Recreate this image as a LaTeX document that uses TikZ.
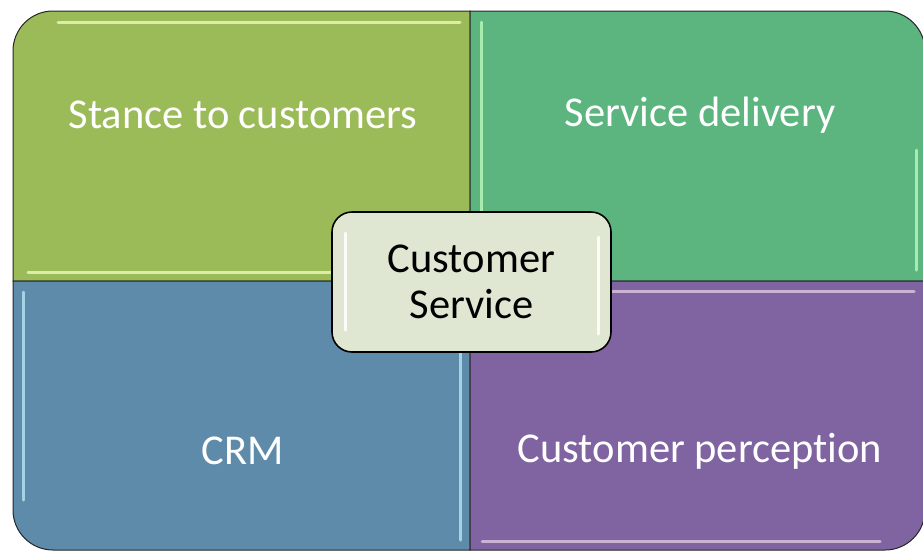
\documentclass[tikz,border=0pt]{standalone}
\usepackage{fontspec}
\setmainfont[RawFeature=-liga]{Carlito}
\definecolor{qgreen}{HTML}{9BBB59}
\definecolor{qteal}{HTML}{5CB47F}
\definecolor{qblue}{HTML}{5F8BAB}
\definecolor{qpurple}{HTML}{8064A2}
\definecolor{cfill}{HTML}{DFE7D3}
\tikzset{
  quad/.style={draw=black!85, line width=1pt},
  hl/.style={line width=3pt, line cap=round, opacity=0.75},
  qlabel/.style={text=white, font=\fontsize{42.5}{46}\selectfont, anchor=center},
  centerbox/.style={draw=black, line width=1.6pt, fill=cfill, rounded corners=20pt,
    minimum width=279pt, minimum height=140pt, align=center,
    font=\fontsize{42.5}{46}\selectfont, text=black, inner sep=0pt}
}
\begin{document}
\begin{tikzpicture}[x=1pt,y=-1pt]
\useasboundingbox (0,0) rectangle (923,550);
\fill[white] (0,0) rectangle (923,550);
% quadrants
\draw[quad, fill=qgreen] (470,281) -- (470,11) -- (53,11) arc[start angle=-90, end angle=-180, radius=40] -- (13,281) -- cycle;
\draw[quad, fill=qteal] (470,281) -- (470,11) -- (885,11) arc[start angle=-90, end angle=0, radius=40] -- (925,281) -- cycle;
\draw[quad, fill=qblue] (470,281) -- (13,281) -- (13,510) arc[start angle=180, end angle=90, radius=40] -- (470,550) -- cycle;
\draw[quad, fill=qpurple] (470,281) -- (925,281) -- (925,510) arc[start angle=0, end angle=90, radius=40] -- (470,550) -- cycle;
% bevel highlights
\draw[hl, draw=green!20!yellow!25!white] (58,22) -- (460,22);
\draw[hl, draw=green!20!yellow!25!white] (28,272) -- (460,272);
\draw[hl, draw=green!25!white] (481,22) -- (481,270);
\draw[hl, draw=green!25!white] (916,150) -- (916,270);
\draw[hl, draw=cyan!25!white] (23,292) -- (23,500);
\draw[hl, draw=cyan!25!white] (460,292) -- (460,540);
\draw[hl, draw=violet!20!white] (482,291) -- (914,291);
\draw[hl, draw=violet!20!white] (482,541) -- (880,541);
% labels
\node[qlabel] (t1) at (243,115) {Stance to customers};
\node[qlabel] (t2) at (700,115) {Service delivery};
\node[qlabel] (t3) at (243,451) {CRM};
\node[qlabel] (t4) at (700,451) {Customer perception};
% center
\node[centerbox] (c) at (471.5,282) {Customer\\Service};
\draw[line width=3pt, white, line cap=round, opacity=0.9] (345,233) -- (345,330);
\draw[line width=3pt, white, line cap=round, opacity=0.9] (598,237) -- (598,334);
\end{tikzpicture}
\end{document}
